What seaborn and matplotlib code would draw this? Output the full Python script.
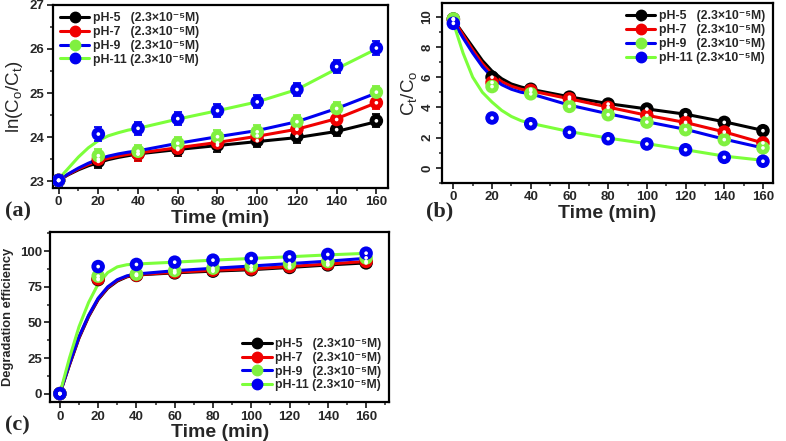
import matplotlib
matplotlib.use("Agg")
import matplotlib.pyplot as plt
import pandas as pd
import seaborn as sns
from matplotlib.lines import Line2D
from matplotlib.ticker import MultipleLocator

# sample times (min)
TIME = [0, 20, 40, 60, 80, 100, 120, 140, 160]
FIT_TIME = [0, 5, 10, 15, 20, 25, 30, 35, 40, 60, 80, 100, 120, 140, 160]

SERIES = ["pH-5", "pH-7", "pH-9", "pH-11"]
LEGEND_TEXT = [
    "pH-5   (2.3×10⁻⁵M)",
    "pH-7   (2.3×10⁻⁵M)",
    "pH-9   (2.3×10⁻⁵M)",
    "pH-11 (2.3×10⁻⁵M)",
]
LINE_COLORS = ["#000000", "#F00000", "#0000F0", "#7CFF3A"]
MARK_COLORS = ["#000000", "#F00000", "#80F040", "#0000F0"]

# (a) ln(Co/Ct)
LN_PH5 = [23.02, 23.45, 23.62, 23.72, 23.82, 23.92, 24.02, 24.17, 24.37]
LN_PH7 = [23.02, 23.50, 23.62, 23.75, 23.87, 24.03, 24.18, 24.40, 24.78]
LN_PH9 = [23.02, 23.58, 23.68, 23.86, 24.01, 24.12, 24.35, 24.65, 25.02]
LN_PH11 = [23.02, 24.07, 24.20, 24.42, 24.60, 24.80, 25.08, 25.60, 26.02]
LN_ERR = [0.12, 0.15, 0.15, 0.15, 0.15, 0.15, 0.15, 0.15, 0.15]
LN_FIT_PH5 = [23.02, 23.15, 23.26, 23.35, 23.42, 23.49, 23.54, 23.58, 23.62,
              23.72, 23.81, 23.90, 23.99, 24.13, 24.35]
LN_FIT_PH7 = [23.02, 23.16, 23.28, 23.38, 23.46, 23.52, 23.57, 23.61, 23.64,
              23.76, 23.88, 24.02, 24.18, 24.42, 24.78]
LN_FIT_PH9 = [23.02, 23.17, 23.30, 23.41, 23.50, 23.57, 23.62, 23.66, 23.69,
              23.86, 24.01, 24.15, 24.35, 24.65, 25.00]
LN_FIT_PH11 = [23.05, 23.30, 23.55, 23.76, 23.92, 24.03, 24.10, 24.16, 24.20,
               24.41, 24.60, 24.80, 25.08, 25.55, 26.00]

# (b) Ct/Co
CT_PH5 = [9.85, 6.00, 5.20, 4.68, 4.22, 3.89, 3.52, 3.01, 2.46]
CT_PH7 = [9.80, 5.65, 5.12, 4.57, 4.00, 3.47, 3.01, 2.37, 1.65]
CT_PH9 = [9.85, 5.38, 4.90, 4.07, 3.52, 3.03, 2.53, 1.87, 1.32]
CT_PH11 = [9.56, 3.30, 2.92, 2.35, 1.93, 1.58, 1.20, 0.70, 0.44]
CT_FIT_PH5 = [9.80, 8.90, 8.00, 7.10, 6.40, 5.90, 5.55, 5.35, 5.20,
              4.70, 4.25, 3.90, 3.55, 3.05, 2.48]
CT_FIT_PH7 = [9.80, 8.80, 7.80, 6.90, 6.20, 5.70, 5.40, 5.20, 5.10,
              4.57, 4.02, 3.48, 3.00, 2.38, 1.65]
CT_FIT_PH9 = [9.70, 8.60, 7.60, 6.70, 6.00, 5.50, 5.20, 5.00, 4.90,
              4.15, 3.58, 3.05, 2.55, 1.90, 1.32]
CT_FIT_PH11 = [9.60, 7.60, 6.00, 5.00, 4.35, 3.80, 3.40, 3.12, 2.95,
               2.40, 1.97, 1.60, 1.20, 0.78, 0.50]

# (c) degradation efficiency
DE_PH5 = [0, 80.1, 83.0, 84.8, 86.0, 87.0, 88.6, 90.4, 91.8]
DE_PH7 = [0, 80.6, 83.2, 85.3, 86.7, 87.6, 89.3, 91.1, 92.8]
DE_PH9 = [0, 82.5, 83.9, 86.4, 88.1, 89.7, 91.4, 92.8, 95.3]
DE_PH11 = [0, 89.2, 90.7, 92.3, 93.7, 94.9, 96.0, 97.7, 98.6]
DE_FIT_PH5 = [0, 20, 39, 54, 66, 74, 79, 82, 83.3, 84.8, 86.0, 87.0, 88.6, 90.3, 91.8]
DE_FIT_PH7 = [0, 20.5, 39.5, 54.5, 66.5, 74.5, 79.5, 82.3, 83.5, 85.2, 86.6, 87.6, 89.3, 91.0, 92.8]
DE_FIT_PH9 = [0, 21, 40, 55, 67, 75, 80, 82.7, 84.0, 86.3, 88.0, 89.6, 91.3, 93.0, 95.0]
DE_FIT_PH11 = [0, 25, 47, 64, 77, 85, 89, 90.5, 91.0, 92.3, 93.7, 94.9, 96.1, 97.4, 98.5]


def long_table(times, columns):
    frames = []
    for name, vals in zip(SERIES, columns):
        frames.append(pd.DataFrame({"time": times, "value": vals, "series": name}))
    return pd.concat(frames, ignore_index=True)


def style_axis(ax, ymajor, yminor, rotate_y=False):
    ax.xaxis.set_major_locator(MultipleLocator(20))
    ax.xaxis.set_minor_locator(MultipleLocator(10))
    ax.yaxis.set_major_locator(MultipleLocator(ymajor))
    ax.yaxis.set_minor_locator(MultipleLocator(yminor))
    ax.tick_params(which="major", direction="out", length=4, width=1.3, labelsize=9.5, pad=2)
    ax.tick_params(which="minor", direction="out", length=2.5, width=1.1)
    for lab in ax.get_xticklabels() + ax.get_yticklabels():
        lab.set_fontweight("bold")
    if rotate_y:
        for lab in ax.get_yticklabels():
            lab.set_rotation(90)
            lab.set_va("center")
    for sp in ax.spines.values():
        sp.set_visible(True)
        sp.set_linewidth(1.6)
        sp.set_color("black")
    ax.set_xlabel("Time (min)", fontsize=14, fontweight="bold", labelpad=1)


def draw_panel(ax, points, fits, err=None):
    pts = long_table(TIME, points)
    fit = long_table(FIT_TIME, fits)
    sns.lineplot(data=fit, x="time", y="value", hue="series", palette=dict(zip(SERIES, LINE_COLORS)),
                 linewidth=2.2, sort=False, legend=False, ax=ax, zorder=2)
    if err is not None:
        for vals, col in zip(points, MARK_COLORS):
            ax.errorbar(TIME, vals, yerr=err, fmt="none", ecolor=col, elinewidth=1.3,
                        capsize=3, capthick=1.3, zorder=3)
    sns.scatterplot(data=pts, x="time", y="value", hue="series", palette=dict(zip(SERIES, MARK_COLORS)),
                    s=95, edgecolor="none", legend=False, ax=ax, zorder=4)
    sns.scatterplot(data=pts, x="time", y="value", color="white", s=7, edgecolor="none",
                    legend=False, ax=ax, zorder=5)


def add_legend(ax, loc, anchor):
    handles = [Line2D([0], [0], color=lc, lw=2.2, marker="o", markersize=7.5,
                      markerfacecolor=mc, markeredgecolor=mc)
               for lc, mc in zip(LINE_COLORS, MARK_COLORS)]
    ax.legend(handles, LEGEND_TEXT, loc=loc, bbox_to_anchor=anchor, frameon=False,
              handlelength=2.4, handletextpad=0.3, labelspacing=0.15, borderaxespad=0.2,
              prop={"weight": "bold", "size": 8.8})


sns.set_theme(style="ticks")
plt.rcParams["font.family"] = ["Liberation Sans", "DejaVu Sans"]
plt.rcParams["mathtext.fontset"] = "custom"
plt.rcParams["mathtext.rm"] = "Liberation Sans"
plt.rcParams["mathtext.it"] = "Liberation Sans:italic"
plt.rcParams["mathtext.bf"] = "Liberation Sans:bold"

fig = plt.figure(figsize=(7.86, 4.41), dpi=100)
ax_a = fig.add_axes([0.067, 0.574, 0.427, 0.415])
ax_b = fig.add_axes([0.562, 0.585, 0.421, 0.408])
ax_c = fig.add_axes([0.064, 0.088, 0.431, 0.386])

# (a)
draw_panel(ax_a, [LN_PH5, LN_PH7, LN_PH9, LN_PH11],
           [LN_FIT_PH5, LN_FIT_PH7, LN_FIT_PH9, LN_FIT_PH11], err=LN_ERR)
ax_a.set_xlim(-3, 166)
ax_a.set_ylim(22.85, 27)
style_axis(ax_a, 1, 0.5)
ax_a.set_ylabel(r"ln(C$_\mathrm{o}$/C$_\mathrm{t}$)", fontsize=13.5, labelpad=3)
add_legend(ax_a, "upper left", (0.0, 1.0))

# (b)
draw_panel(ax_b, [CT_PH5, CT_PH7, CT_PH9, CT_PH11],
           [CT_FIT_PH5, CT_FIT_PH7, CT_FIT_PH9, CT_FIT_PH11])
ax_b.set_xlim(-6, 165)
ax_b.set_ylim(-1, 10.9)
style_axis(ax_b, 2, 1, rotate_y=True)
ax_b.set_ylabel(r"C$_\mathrm{t}$/C$_\mathrm{o}$", fontsize=13.5, labelpad=2)
add_legend(ax_b, "upper right", (1.0, 1.0))

# (c)
draw_panel(ax_c, [DE_PH5, DE_PH7, DE_PH9, DE_PH11],
           [DE_FIT_PH5, DE_FIT_PH7, DE_FIT_PH9, DE_FIT_PH11])
ax_c.set_xlim(-5, 172)
ax_c.set_ylim(-6, 113.5)
style_axis(ax_c, 25, 12.5)
ax_c.set_ylabel("Degradation efficiency", fontsize=9.3, fontweight="bold", labelpad=4)
add_legend(ax_c, "lower right", (1.0, 0.02))

for x, y, lab in [(0.006, 0.52, "(a)"), (0.542, 0.52, "(b)"), (0.006, 0.036, "(c)")]:
    fig.text(x, y, lab, fontsize=16, fontweight="bold", family=["Liberation Serif", "DejaVu Serif"],
             va="center", ha="left")

fig.savefig("out.png", dpi=100)
